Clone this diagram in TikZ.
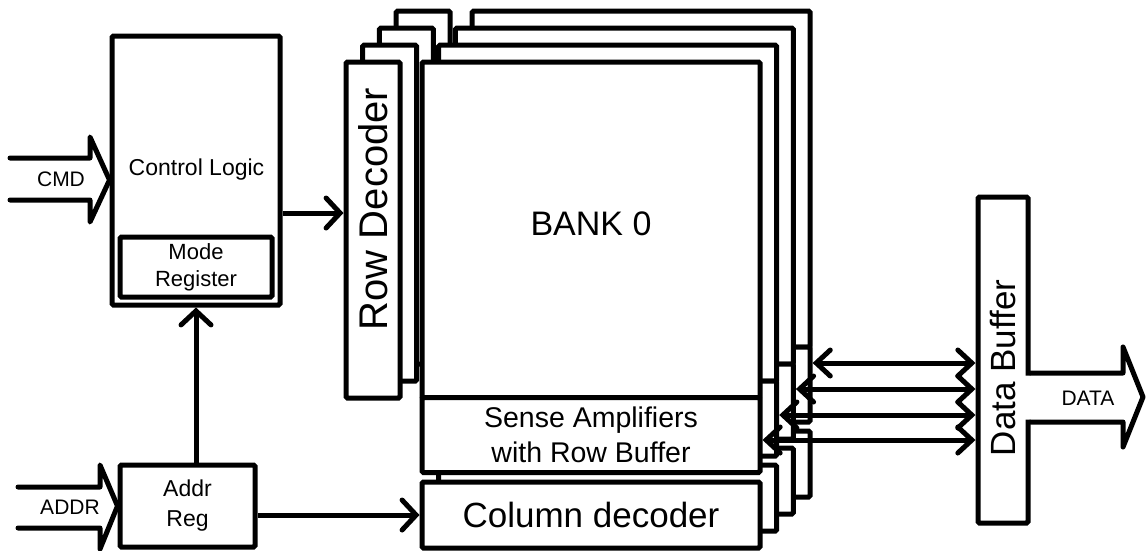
\documentclass[tikz,border=0pt]{standalone}
\usepackage{fontspec}
\setmainfont{Liberation Sans}
\usetikzlibrary{arrows.meta, positioning, calc}
\newcommand{\fs}[2]{\fontsize{#1}{#2}\selectfont}
\tikzset{
	blk/.style   ={rectangle, draw=black, fill=white, line width=5pt, rounded corners=1.5pt, inner sep=0pt, align=center},
	bigarrow/.style={draw=black, fill=white, line width=5pt, line join=round, line cap=round},
	sig/.style   ={-{Straight Barb[length=14pt, width=30pt, line cap=round]}, line width=5pt},
	bisig/.style ={{Straight Barb[length=14pt, width=26pt, line cap=round]}-{Straight Barb[length=14pt, width=26pt, line cap=round]}, line width=5pt},
}

\begin{document}
\begin{tikzpicture}[x=1pt, y=-1pt]
	\useasboundingbox (0,0) rectangle (1147,550);
	% stacked banks, back to front
	\foreach \k in {3,2,1} {
		\node[blk, minimum width=54pt, minimum height=336pt] (rd\k) at ({373+16.7*\k},{230-17*\k}) {};
		\node[blk, minimum width=338pt, minimum height=336pt] (bank\k) at ({591+16.7*\k},{230-17*\k}) {};
		\node[blk, minimum width=338pt, minimum height=75pt] (sa\k) at ({591+16.7*\k},{435.5-17*\k}) {};
		\node[blk, minimum width=338pt, minimum height=66pt] (cd\k) at ({591+16.7*\k},{515-17*\k}) {};
	}
	\node[blk, minimum width=54pt, minimum height=336pt] (rd0) at (373,230) {};
	\node[rotate=90, font=\fs{40}{48}] (rdlbl) at (373,209) {Row Decoder};
	\node[blk, minimum width=338pt, minimum height=336pt] (bank0) at (591,230) {};
	\node[font=\fs{34}{40}] (banklbl) at (591,224) {BANK 0};
	\node[blk, minimum width=338pt, minimum height=75pt, font=\fs{28.5}{35}] (sa0) at (591,435) {Sense Amplifiers\\with Row Buffer};
	\node[blk, minimum width=338pt, minimum height=66pt, font=\fs{35}{42}] (cd0) at (591,515) {Column decoder};

	% control logic and address register
	\node[blk, minimum width=168pt, minimum height=269pt] (ctrl) at (196,170.5) {};
	\node[font=\fs{23}{28}] (ctrllbl) at (196.5,170) {Control Logic};
	\node[blk, minimum width=152pt, minimum height=60pt, font=\fs{22}{27}] (mode) at (196,267) {Mode\\Register};
	\node[blk, minimum width=135pt, minimum height=82pt, font=\fs{23}{30}] (addr) at (187.5,506) {Addr\\Reg};

	% data buffer
	\node[blk, minimum width=50pt, minimum height=326pt] (buf) at (1003,360) {};
	\node[rotate=90, font=\fs{35}{42}] (buflbl) at (1003,368) {Data Buffer};

	% wide input / output arrows
	\path[bigarrow, draw=none] (1024,375.5) -- (1123,375.5) -- (1123,347) -- (1143,397) -- (1123,447) -- (1123,419.5) -- (1024,419.5) -- cycle;
	\draw[bigarrow, fill=none] (buf.east |- 0,373) -- (1123,373) -- (1123,347) -- (1143,397) -- (1123,447) -- (1123,422) -- (buf.east |- 0,422);
	\node[font=\fs{21}{25}] (datalbl) at (1088,398) {DATA};
	\draw[bigarrow, fill=none] (10,158) -- (90,158) -- (90,137) -- (ctrl.west |- 0,180) -- (90,222) -- (90,200) -- (10,200);
	\node[font=\fs{21}{25}] (cmdlbl) at (61,179) {CMD};
	\draw[bigarrow, fill=none] (18,487) -- (100,487) -- (100,465) -- (addr.west) -- (100,549) -- (100,528) -- (18,528);
	\node[font=\fs{21}{25}] (addrlbl) at (70,507) {ADDR};

	% signal connectors
	\draw[sig] (ctrl.east |- 0,213) -- (rd0.west |- 0,213);
	\draw[sig] (addr.north -| ctrl.south) -- (ctrl.south);
	\draw[sig] (addr.east |- cd0.west) -- (cd0.west);
	\foreach \k/\y in {0/440, 1/415, 2/389, 3/363}
		\draw[bisig] (sa\k.east |- 0,\y) -- (buf.west |- 0,\y);
\end{tikzpicture}
\end{document}
